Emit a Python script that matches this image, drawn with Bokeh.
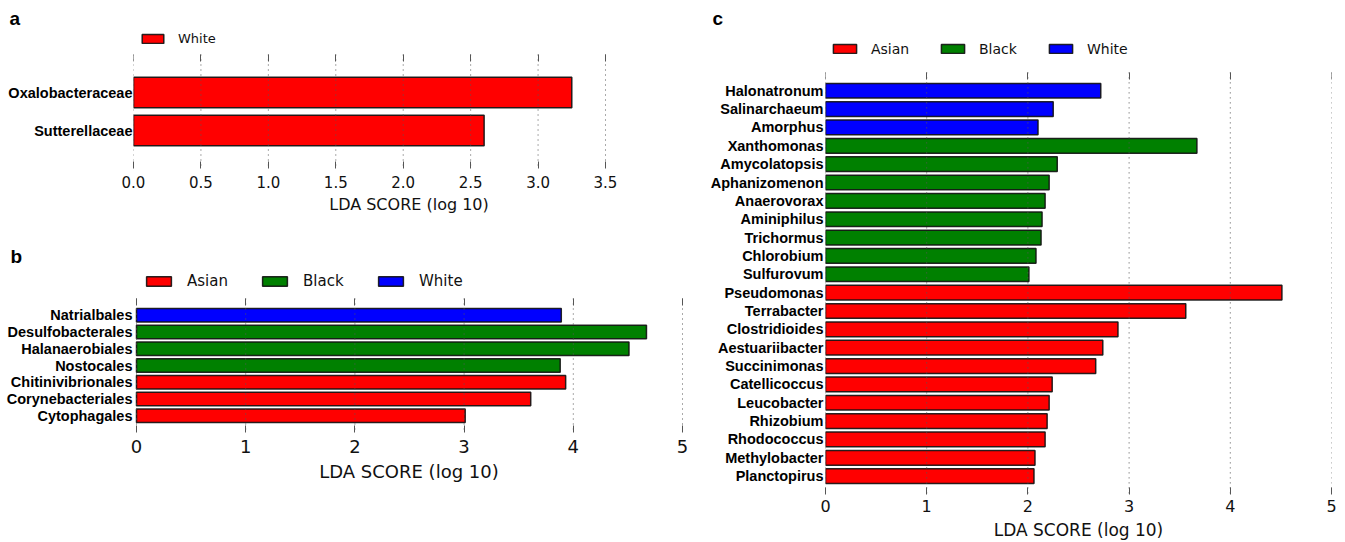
from bokeh.plotting import figure
from bokeh.layouts import row, column
from bokeh.models import (Range1d, FixedTicker, LinearAxis, Legend, LegendItem,
                          ColumnDataSource, PrintfTickFormatter)
from bokeh.embed import file_html
from bokeh.resources import INLINE

# ---------------- data ----------------
a_names = ["Oxalobacteraceae", "Sutterellaceae"]
a_values = [3.25, 2.60]
a_groups = ["White", "White"]
a_ticks = [0.0, 0.5, 1.0, 1.5, 2.0, 2.5, 3.0, 3.5]

b_names = ["Natrialbales", "Desulfobacterales", "Halanaerobiales", "Nostocales",
           "Chitinivibrionales", "Corynebacteriales", "Cytophagales"]
b_values = [3.89, 4.67, 4.51, 3.88, 3.93, 3.61, 3.01]
b_groups = ["White", "Black", "Black", "Black", "Asian", "Asian", "Asian"]
b_ticks = [0, 1, 2, 3, 4, 5]

c_names = ["Halonatronum", "Salinarchaeum", "Amorphus", "Xanthomonas", "Amycolatopsis",
           "Aphanizomenon", "Anaerovorax", "Aminiphilus", "Trichormus", "Chlorobium",
           "Sulfurovum", "Pseudomonas", "Terrabacter", "Clostridioides", "Aestuariibacter",
           "Succinimonas", "Catellicoccus", "Leucobacter", "Rhizobium", "Rhodococcus",
           "Methylobacter", "Planctopirus"]
c_values = [2.72, 2.25, 2.10, 3.67, 2.29, 2.21, 2.17, 2.14, 2.13, 2.08, 2.01,
            4.51, 3.56, 2.89, 2.74, 2.67, 2.24, 2.21, 2.19, 2.17, 2.07, 2.06]
c_groups = ["White"] * 3 + ["Black"] * 8 + ["Asian"] * 11
c_ticks = [0, 1, 2, 3, 4, 5]

legend_order = ["Asian", "Black", "White"]
colors_abc = {"Asian": "#ff0000", "Black": "#008000", "White": "#0000ff"}
colors_a = {"White": "#ff0000"}

x_title = "LDA SCORE (log 10)"


def panel(names, values, groups, ticks, colors, letter, *, ox, oy, W, H,
          frame_l, frame_r, zero_px, last_px, frame_t, tick_t, frame_b,
          tick_fs, xlabel_fs, ylab_fs, ylab_standoff, leg_fs, glyph_w, glyph_h,
          standoff, label_w, spacing, leg_left, leg_center, letter_x, fmt,
          tl_standoff, al_standoff):
    n = len(names)
    # x range so that the first / last ticks land on the wanted pixels
    scale = (last_px - zero_px) / (ticks[-1] - ticks[0])
    x0 = ticks[0] - (zero_px - frame_l) / scale
    x1 = ticks[-1] + (frame_r - last_px) / scale
    # y range: rows -1 .. n between tick_t and frame_b, extra room above for legend
    y_top = -1 - (tick_t - frame_t) * (n + 1) / (frame_b - tick_t)
    bl = frame_l - ox
    br = ox + W - frame_r
    bt = frame_t - oy
    bb = oy + H - frame_b
    p = figure(width=W, height=H, output_backend="svg", toolbar_location=None,
               x_range=Range1d(x0, x1), y_range=Range1d(n, y_top),
               min_border_left=bl, min_border_top=bt,
               min_border_right=br, min_border_bottom=bb,
               outline_line_color=None, background_fill_color="white",
               border_fill_color="white")
    idx = list(range(n))
    items = []
    for g in legend_order:
        sel = [i for i in idx if groups[i] == g]
        if not sel:
            continue
        src = ColumnDataSource(dict(y=sel, right=[values[i] for i in sel]))
        r = p.hbar(y="y", left=0, right="right", height=0.8, source=src,
                   fill_color=colors[g], line_color="#111111", line_width=1.5,
                   line_alpha=0.9)
        items.append(LegendItem(label=g, renderers=[r]))

    # dotted vertical grid lines between the tick rows, drawn above the bars
    gsrc = ColumnDataSource(dict(x=ticks, y0=[-1] * len(ticks), y1=[n] * len(ticks)))
    p.segment(x0="x", y0="y0", x1="x", y1="y1", source=gsrc,
              line_color="#555555", line_width=1, line_dash="1 4")

    p.xgrid.visible = False
    p.ygrid.visible = False

    # x axis (below)
    xa = p.xaxis[0]
    xa.ticker = FixedTicker(ticks=ticks)
    xa.formatter = PrintfTickFormatter(format=fmt)
    xa.axis_line_color = None
    xa.major_tick_in = 7
    xa.major_tick_out = 0
    xa.major_tick_line_color = "#555555"
    xa.minor_tick_line_color = None
    xa.major_label_text_font = "DejaVu Sans"
    xa.major_label_text_font_size = f"{tick_fs}px"
    xa.major_label_text_color = "#111111"
    xa.major_label_standoff = tl_standoff
    xa.axis_label = x_title
    xa.axis_label_text_font = "DejaVu Sans"
    xa.axis_label_text_font_style = "normal"
    xa.axis_label_text_font_size = f"{xlabel_fs}px"
    xa.axis_label_text_color = "#111111"
    xa.axis_label_standoff = al_standoff

    # top tick marks at the first row boundary
    top = LinearAxis(ticker=FixedTicker(ticks=ticks), axis_line_color=None,
                     fixed_location=-1,
                     major_tick_in=7, major_tick_out=0,
                     major_tick_line_color="#555555", minor_tick_line_color=None,
                     major_label_standoff=0, major_label_text_font_size="2px",
                     major_label_text_color=None,
                     major_label_overrides={t: "" for t in ticks})
    p.add_layout(top, "above")

    # legend inside the (extended) frame
    lh = max(glyph_h, 1.164 * leg_fs)
    vy = frame_b - (leg_center + lh / 2)
    lg = Legend(items=items, orientation="horizontal",
                location=(leg_left - frame_l, vy),
                padding=0, margin=0, border_line_color=None,
                background_fill_alpha=0, glyph_width=glyph_w, glyph_height=glyph_h,
                label_standoff=standoff, label_width=label_w, spacing=spacing,
                label_text_font="DejaVu Sans", label_text_font_size=f"{leg_fs}px",
                label_text_color="#111111")
    p.add_layout(lg, "center")

    # panel letter as title
    p.title.text = letter
    p.title.align = "left"
    p.title.offset = letter_x - frame_l
    p.title.standoff = 0
    p.title.text_font = "Liberation Sans"
    p.title.text_font_style = "bold"
    p.title.text_font_size = "19px"
    p.title.text_color = "black"

    # y axis with category names
    ya = p.yaxis[0]
    ya.ticker = FixedTicker(ticks=idx)
    ya.major_label_overrides = {i: names[i] for i in idx}
    ya.axis_line_color = None
    ya.major_tick_line_color = None
    ya.major_tick_in = 0
    ya.major_tick_out = 0
    ya.minor_tick_line_color = None
    ya.major_label_standoff = ylab_standoff
    ya.major_label_text_font = "Liberation Sans"
    ya.major_label_text_font_style = "bold"
    ya.major_label_text_font_size = f"{ylab_fs}px"
    ya.major_label_text_color = "black"
    return p


pa = panel(a_names, a_values, a_groups, a_ticks, colors_a, "a",
           ox=0, oy=0, W=700, H=227,
           frame_l=133, frame_r=684, zero_px=133, last_px=605,
           frame_t=28, tick_t=54, frame_b=168,
           tick_fs=15, xlabel_fs=16, ylab_fs=14.5, ylab_standoff=1, leg_fs=13,
           glyph_w=27, glyph_h=11, standoff=12, label_w=40, spacing=20,
           leg_left=139, leg_center=38.5, letter_x=9, fmt="%.1f",
           tl_standoff=7, al_standoff=4)

pb = panel(b_names, b_values, b_groups, b_ticks, colors_abc, "b",
           ox=0, oy=227, W=700, H=260,
           frame_l=133, frame_r=684, zero_px=136, last_px=682,
           frame_t=266, tick_t=298, frame_b=432,
           tick_fs=18, xlabel_fs=18, ylab_fs=14.5, ylab_standoff=1, leg_fs=15,
           glyph_w=31, glyph_h=12, standoff=13, label_w=50, spacing=22,
           leg_left=143, leg_center=281, letter_x=10, fmt="%d",
           tl_standoff=7, al_standoff=5)

pc = panel(c_names, c_values, c_groups, c_ticks, colors_abc, "c",
           ox=700, oy=0, W=645, H=542,
           frame_l=825, frame_r=1331, zero_px=825, last_px=1331,
           frame_t=28, tick_t=72, frame_b=495,
           tick_fs=16, xlabel_fs=17, ylab_fs=14.5, ylab_standoff=2, leg_fs=14,
           glyph_w=29, glyph_h=11, standoff=12, label_w=48, spacing=19,
           leg_left=830, leg_center=49.5, letter_x=712, fmt="%d",
           tl_standoff=5, al_standoff=5)

layout = row(column(pa, pb), pc)
open("out.html", "w").write(file_html(layout, INLINE))
